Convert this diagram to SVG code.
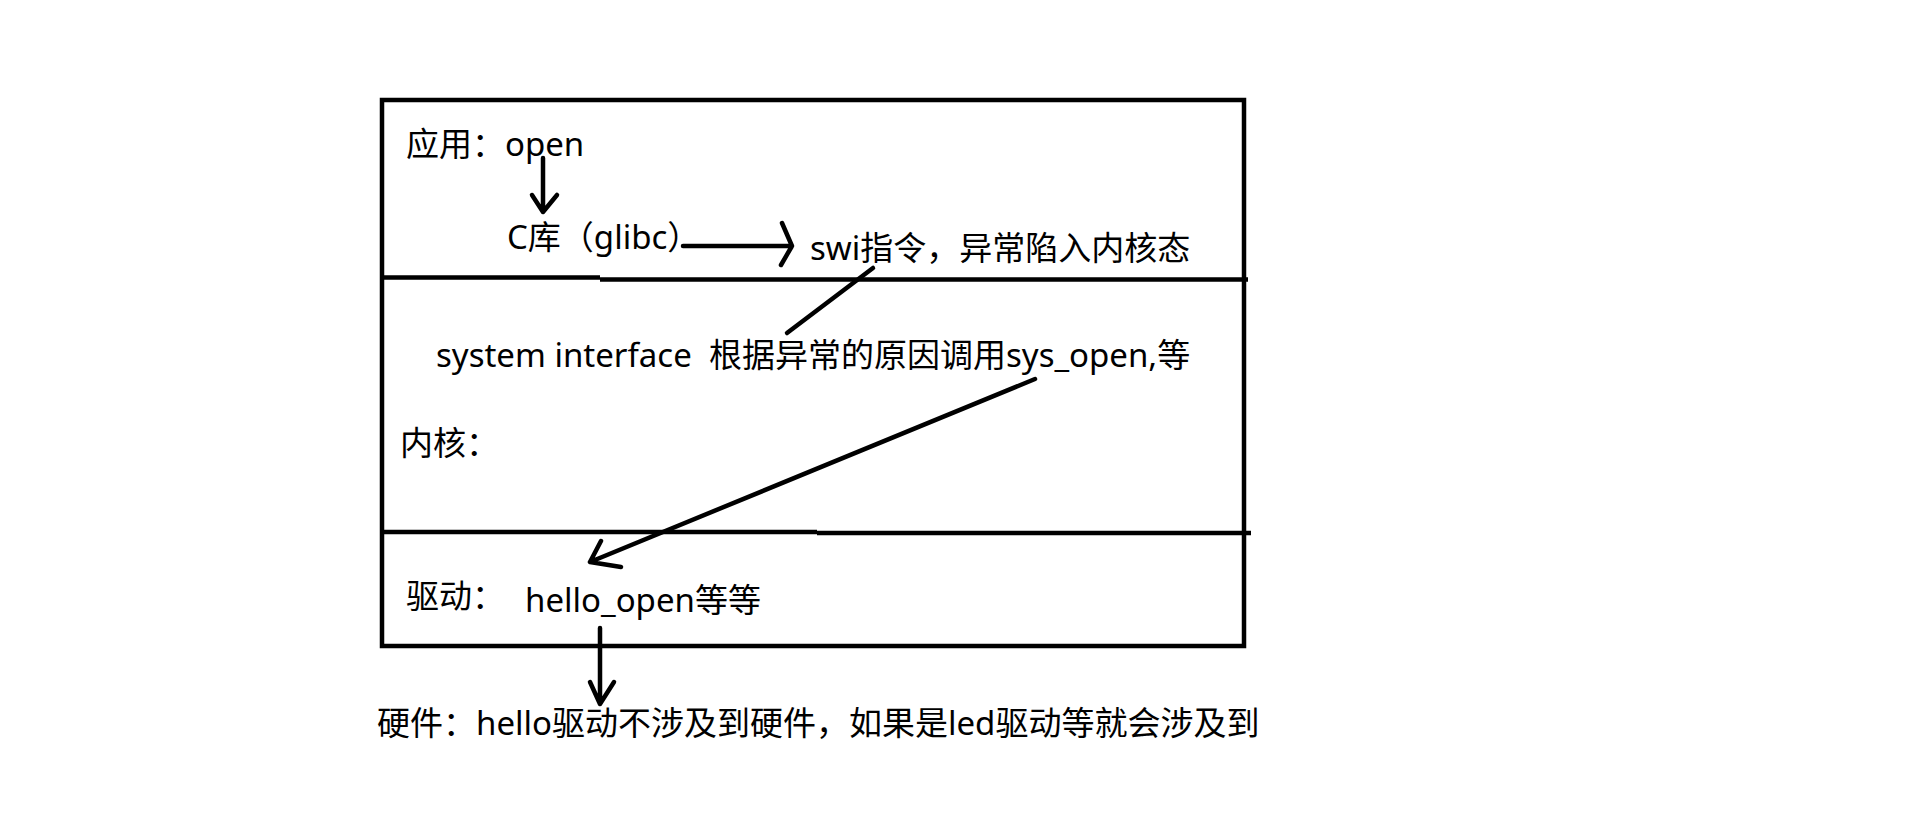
<svg xmlns="http://www.w3.org/2000/svg" width="1914" height="816" viewBox="0 0 1914 816">
<style>
.t{font-family:"Noto Sans","Noto Sans CJK SC",sans-serif;font-size:33px;fill:#000}
.ln{fill:none;stroke:#000;stroke-width:4.5;stroke-linecap:round;stroke-linejoin:round}
.frame{fill:none;stroke:#000;stroke-width:4.5}
</style>
<rect width="1914" height="816" fill="#fff"/>
<g id="layers">
<rect class="frame" x="382" y="100" width="862" height="546"/>
<path class="frame" d="M382 277.5H600M600 279.5H1248"/>
<path class="frame" d="M382 532H817M817 533H1251"/>
</g>
<g id="app"><text class="t" x="406" y="156">应用：open</text></g>
<g id="glibc"><text class="t" x="507" y="249">C库（glibc）</text></g>
<g id="swi"><text class="t" x="810" y="260">swi指令，异常陷入内核态</text></g>
<g id="sysif"><text class="t" x="436" y="367">system interface<tspan x="709">根据异常的原因调用sys_open,等</tspan></text></g>
<g id="kernel"><text class="t" x="400" y="455">内核：</text></g>
<g id="driver-label"><text class="t" x="406" y="608">驱动：</text></g>
<g id="hello"><text class="t" x="525" y="612">hello_open等等</text></g>
<g id="hardware"><text class="t" x="377" y="735">硬件：hello驱动不涉及到硬件，如果是led驱动等就会涉及到</text></g>
<g id="connectors">
<path class="ln" d="M543 158V212M532 195L543 212L557 195"/>
<path class="ln" d="M683 246H792M782 223L792 246L781 265"/>
<path class="ln" d="M873 268L787 333"/>
<path class="ln" d="M1035 379L590 562M601 541L590 562L621 567"/>
<path class="ln" d="M600 628V704M590 682L600 704L614 682"/>
</g>
</svg>
